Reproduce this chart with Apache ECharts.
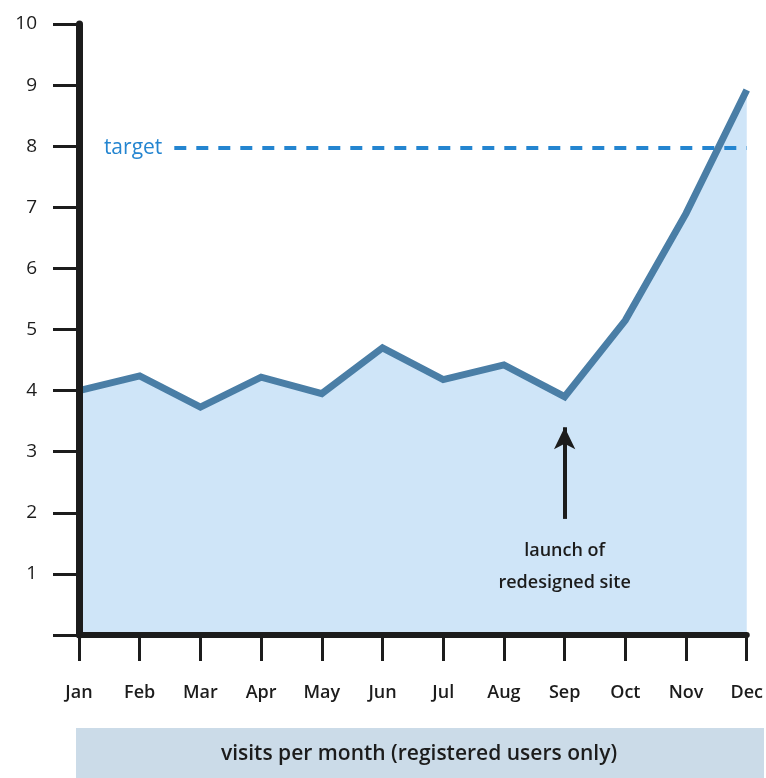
<!DOCTYPE html>
<html>
<head>
<meta charset="utf-8">
<script src="https://cdn.jsdelivr.net/npm/echarts@6/dist/echarts.min.js"></script>
<style>
  html, body { margin: 0; padding: 0; background: #fff; }
  #chart { width: 766px; height: 778px; }
</style>
</head>
<body>
<div id="chart"></div>
<script>
// visits per month, with target and the site relaunch marked
var months = ['Jan', 'Feb', 'Mar', 'Apr', 'May', 'Jun', 'Jul', 'Aug', 'Sep', 'Oct', 'Nov', 'Dec'];
var visits = [4.0, 4.24, 3.73, 4.22, 3.95, 4.7, 4.18, 4.42, 3.9, 5.15, 6.9, 8.92];
var yTicks = [0, 1, 2, 3, 4, 5, 6, 7, 8, 9, 10];
var targetValue = 7.97;
var targetStart = 1.57;   // target line begins between Feb and Mar
var launchMonth = 8;      // Sep
var launchArrow = [1.9, 3.4];
var axisTitle = 'visits per month (registered users only)';

var ink = '#1c1c1c';
var lineBlue = '#4a7ea6';
var fillBlue = '#cfe5f8';
var targetBlue = '#2485d0';
var font = 'Open Sans';

var chart = echarts.init(document.getElementById('chart'), null, { renderer: 'canvas' });

var seriesData = visits.map(function(v, i) { return [i, v]; });

chart.setOption({
  animation: false,
  backgroundColor: '#fff',
  grid: { left: 79, right: 16, top: 24, bottom: 143, containLabel: false },
  xAxis: {
    type: 'value',
    z: 10,
    min: 0,
    max: months.length - 1,
    interval: 1,
    splitLine: { show: false },
    axisLine: { lineStyle: { color: ink, width: 6 } },
    axisTick: { length: 26, lineStyle: { color: ink, width: 3 } },
    axisLabel: {
      margin: 49,
      color: ink,
      fontFamily: font,
      fontWeight: 600,
      fontSize: 18,
      formatter: function(v) { return months[v] || ''; }
    }
  },
  yAxis: {
    type: 'value',
    z: 10,
    min: yTicks[0],
    max: yTicks[yTicks.length - 1],
    interval: 1,
    splitLine: { show: false },
    axisLine: { show: true, lineStyle: { color: ink, width: 7 } },
    axisTick: { show: true, length: 26, lineStyle: { color: ink, width: 3 } },
    axisLabel: {
      margin: 42,
      color: ink,
      fontFamily: font,
      fontWeight: 500,
      fontSize: 19,
      formatter: function(v) { return v === 0 ? '' : v; }
    }
  },
  series: [{
    type: 'line',
    data: seriesData,
    symbol: 'none',
    z: 3,
    lineStyle: { color: lineBlue, width: 7, join: 'miter' },
    areaStyle: { color: fillBlue, opacity: 1 },
    markLine: {
      silent: true,
      symbol: ['none', 'none'],
      data: [
        [
          { coord: [targetStart, targetValue] },
          { coord: [months.length - 1, targetValue] }
        ]
      ],
      lineStyle: { color: targetBlue, width: 4, type: [12, 10] },
      label: {
        show: true,
        position: 'start',
        distance: 12,
        formatter: 'target',
        color: targetBlue,
        fontFamily: font,
        fontWeight: 500,
        fontSize: 21
      }
    }
  }, {
    type: 'line',
    data: [],
    markLine: {
      silent: true,
      symbol: ['none', 'arrow'],
      symbolSize: [16, 22],
      data: [
        [
          { coord: [launchMonth, launchArrow[0]] },
          { coord: [launchMonth, launchArrow[1]] }
        ]
      ],
      lineStyle: { color: ink, width: 4, type: 'solid' },
      label: {
        show: true,
        position: 'start',
        distance: 16,
        formatter: 'launch of\nredesigned site',
        color: ink,
        fontFamily: font,
        fontWeight: 600,
        fontSize: 18,
        lineHeight: 32,
        align: 'center'
      }
    }
  }],
  graphic: [{
    type: 'group',
    left: 76,
    top: 728,
    children: [{
      type: 'rect',
      shape: { x: 0, y: 0, width: 688, height: 50 },
      style: { fill: '#cbdbe8' }
    }, {
      type: 'text',
      x: 343,
      y: 26,
      style: {
        text: axisTitle,
        fill: ink,
        font: '600 21px "Open Sans"',
        align: 'center',
        verticalAlign: 'middle'
      }
    }]
  }]
});

window.addEventListener('resize', function() { chart.resize(); });
</script>
</body>
</html>
